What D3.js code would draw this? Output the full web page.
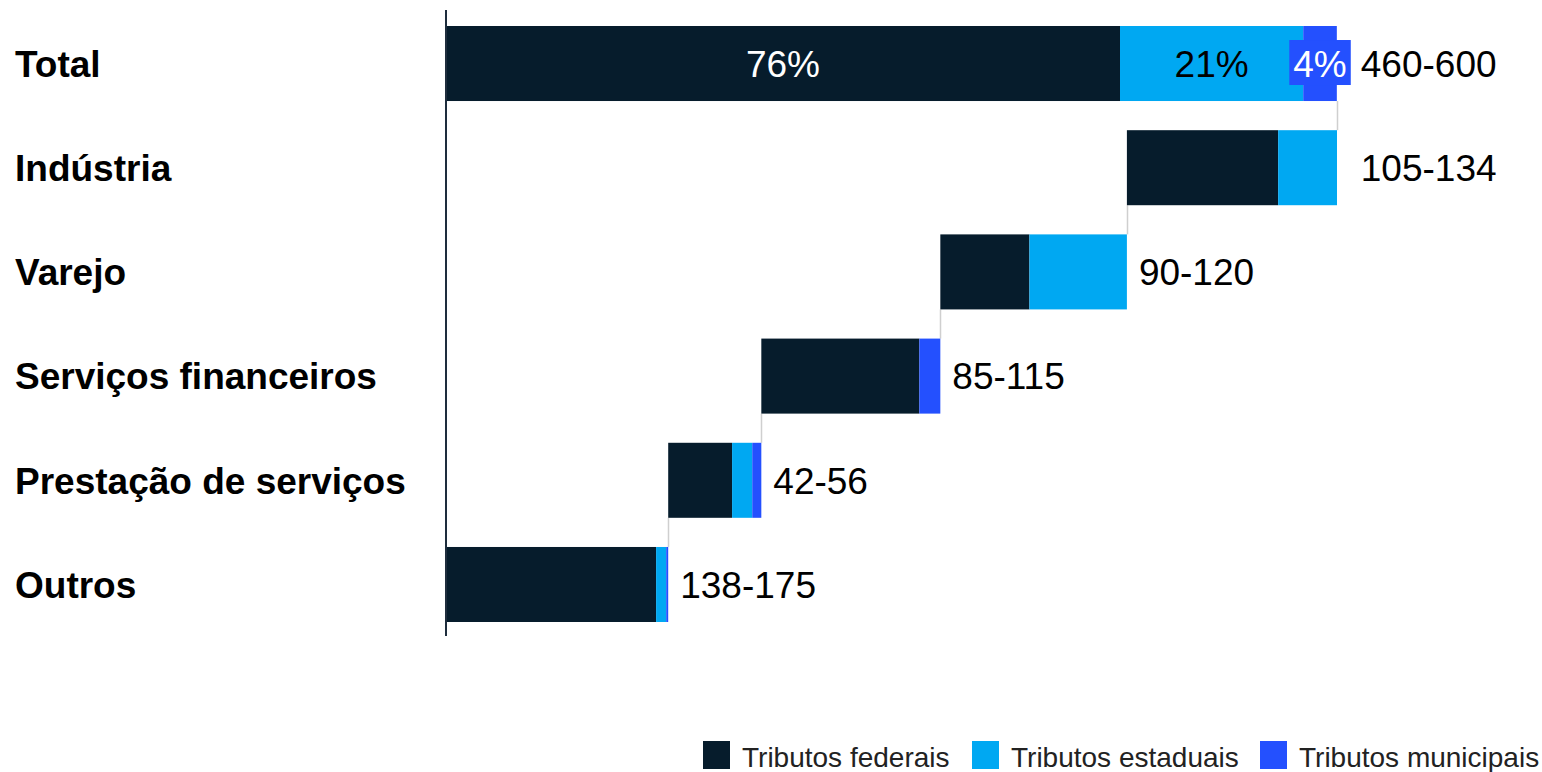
<!DOCTYPE html>
<html>
<head>
<meta charset="utf-8">
<script src="https://cdn.jsdelivr.net/npm/d3@7"></script>
<style>
  html, body { margin: 0; padding: 0; background: #ffffff; }
  svg { display: block; font-family: Arial, "Liberation Sans", sans-serif; }
</style>
</head>
<body>
<svg id="chart" width="1542" height="772"></svg>
<script>
// ---- Data (values in R$ bilhões) ----
const categories = ["Total", "Indústria", "Varejo", "Serviços financeiros", "Prestação de serviços", "Outros"];
const seriesNames = ["Tributos federais", "Tributos estaduais", "Tributos municipais"];
const federais   = [401, 90, 53, 94, 38, 125];
const estaduais  = [109, 35, 58, 0, 12, 6];
const municipais = [20, 0, 0, 12.5, 5.4, 1.2];
const rangeLabels = ["460-600", "105-134", "90-120", "85-115", "42-56", "138-175"];
const colors = ["#061c2c", "#00a8f2", "#2450fe"];

// ---- Layout ----
const svg = d3.select("#chart");
const xLeft = 446, xRight = 1337;

const seriesValues = [federais, estaduais, municipais];
const rowTotals = categories.map((c, i) => federais[i] + estaduais[i] + municipais[i]);

// waterfall start positions: Total starts at 0; sectors stacked from the bottom (Outros) upwards
const starts = new Array(categories.length).fill(0);
let acc = 0;
for (let i = categories.length - 1; i >= 1; i--) {
  starts[i] = acc;
  acc += rowTotals[i];
}
starts[0] = 0;
const maxVal = Math.max(acc, rowTotals[0]);

const x = d3.scaleLinear().domain([0, maxVal]).range([xLeft, xRight]);
const y = d3.scaleBand().domain(categories).range([26, 622]).paddingInner(0.28).paddingOuter(0);
const bw = y.bandwidth();

// segments
const segs = [];
categories.forEach((c, i) => {
  let s = starts[i];
  seriesValues.forEach((arr, k) => {
    const v = arr[i];
    if (v > 0) segs.push({ cat: c, row: i, k, x0: s, x1: s + v, v });
    s += v;
  });
});

// connectors
const conn = svg.append("g");
for (let i = 0; i < categories.length - 1; i++) {
  const cx = Math.round(x(starts[i + 1] + rowTotals[i + 1])) + 0.5;
  conn.append("line")
    .attr("x1", cx).attr("x2", cx)
    .attr("y1", y(categories[i]) + bw)
    .attr("y2", y(categories[i + 1]))
    .attr("stroke", "#cfcfcf").attr("stroke-width", 1.5);
}

// bars
svg.append("g").selectAll("rect").data(segs).join("rect")
  .attr("x", d => x(d.x0))
  .attr("width", d => x(d.x1) - x(d.x0))
  .attr("y", d => y(d.cat))
  .attr("height", bw)
  .attr("fill", d => colors[d.k]);

// axis line (vertical baseline)
svg.append("line")
  .attr("x1", xLeft).attr("x2", xLeft)
  .attr("y1", 10).attr("y2", 636)
  .attr("stroke", "#1e2d3d").attr("stroke-width", 2);

// category labels
svg.append("g").selectAll("text").data(categories).join("text")
  .attr("x", 15)
  .attr("y", d => y(d) + bw / 2)
  .attr("dy", "0.36em")
  .attr("font-size", 37)
  .attr("font-weight", "bold")
  .attr("fill", "#000")
  .text(d => d);

// percentage labels in Total bar
const pct = d3.format(".0%");
const totalSegs = segs.filter(d => d.row === 0);
const labelColors = ["#ffffff", "#000000", "#ffffff"];
let boxRight = 0;
totalSegs.forEach(d => {
  const cx = (x(d.x0) + x(d.x1)) / 2;
  const cy = y(d.cat) + bw / 2;
  const g = svg.append("g");
  const t = g.append("text")
    .attr("x", cx).attr("y", cy).attr("dy", "0.36em")
    .attr("text-anchor", "middle")
    .attr("font-size", 37)
    .attr("fill", labelColors[d.k])
    .text(pct(d.v / rowTotals[0]));
  const segW = x(d.x1) - x(d.x0);
  const tw = t.node().getComputedTextLength();
  if (tw + 6 > segW) {
    const bwBox = tw + 8, bh = 45;
    g.insert("rect", "text")
      .attr("x", cx - bwBox / 2).attr("y", cy - bh / 2 - 1)
      .attr("width", bwBox).attr("height", bh)
      .attr("fill", colors[d.k]);
    boxRight = Math.max(boxRight, cx + bwBox / 2);
  }
});

// range labels
let prevEnd = null, prevLabelX = null;
categories.forEach((c, i) => {
  const endX = x(starts[i] + rowTotals[i]);
  let lx = Math.max(endX + 12, i === 0 ? boxRight + 10 : 0);
  if (prevEnd !== null && Math.abs(prevEnd - endX) < 1) lx = Math.max(lx, prevLabelX);
  svg.append("text")
    .attr("x", lx).attr("y", y(c) + bw / 2).attr("dy", "0.36em")
    .attr("font-size", 37)
    .attr("fill", "#000")
    .text(rangeLabels[i]);
  prevEnd = endX; prevLabelX = lx;
});

// legend
const legendX = [703, 972, 1260];
const lg = svg.append("g");
seriesNames.forEach((n, k) => {
  lg.append("rect").attr("x", legendX[k]).attr("y", 741).attr("width", 27).attr("height", 28).attr("fill", colors[k]);
  lg.append("text").attr("x", legendX[k] + 39).attr("y", 767)
    .attr("font-size", 28).attr("fill", "#222").text(n);
});
</script>
</body>
</html>
